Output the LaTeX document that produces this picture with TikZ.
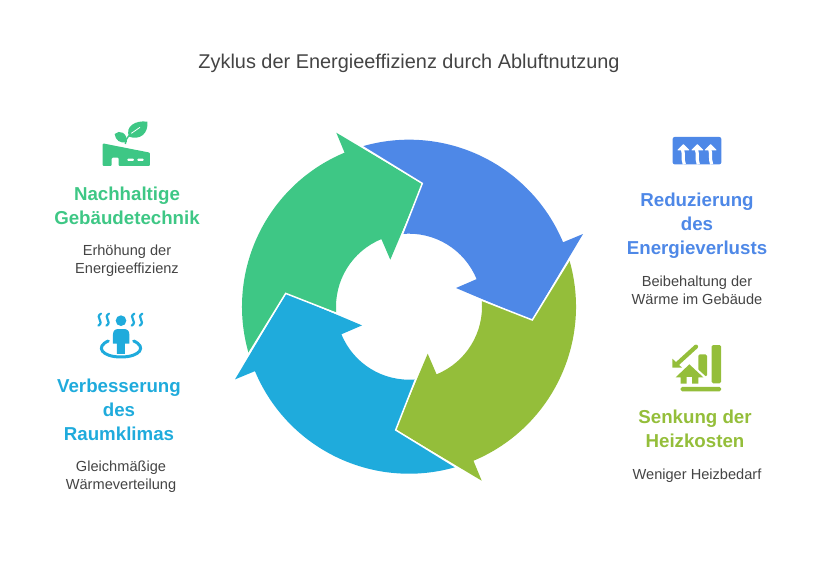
\documentclass[tikz,border=0pt]{standalone}
\usepackage{fontspec}
\setmainfont{Liberation Sans}
\usepackage{tikz}
\definecolor{arrowblue}{HTML}{4E88E7}
\definecolor{arrowgreen}{HTML}{3EC785}
\definecolor{arrowcyan}{HTML}{1FABDC}
\definecolor{arrowolive}{HTML}{94BE3A}
\definecolor{textgray}{HTML}{444444}
\tikzset{
  titlelabel/.style={text=textgray,font=\fontsize{19.9}{22}\selectfont},
  headlabel/.style={align=center,font=\fontsize{18.7}{24}\selectfont\bfseries},
  bodylabel/.style={align=center,text=textgray,font=\fontsize{14.6}{18}\selectfont},
  cycleedge/.style={draw=white,line width=1.5pt,line join=miter},
  iconzoom/.style={x=0.3333pt,y=-0.3333pt}
}
\newcommand{\cyclepart}[2]{%
  \fill [#2, shift={(409,259.3)}, rotate=#1]
    (106.1:167) -- (13.3,123.3) -- (94.7:73)
    arc [start angle=94.7, end angle=22.2, radius=73]
    -- (47,18.7) -- (122.7,-13.3) -- (174,72.7) -- (22.7:167)
    arc [start angle=22.7, end angle=106.1, radius=167] -- cycle;}
\begin{document}
\begin{tikzpicture}[x=1pt,y=1pt]
  \useasboundingbox (0,0) rectangle (818,566);
  % ring of arrows
  \cyclepart{0}{arrowblue}
  \cyclepart{-90}{arrowolive}
  \cyclepart{-180}{arrowcyan}
  \cyclepart{-270}{arrowgreen}
  \foreach \turn in {0,-90,-180,-270}
    \draw [cycleedge, shift={(409,259.3)}, rotate=\turn] (106.6:168) -- (13.3,123.3) -- (95.5:72);
  % title
  \node [titlelabel] (title) at (409,502.5) {Zyklus der Energieeffizienz durch Abluftnutzung};
  % left column
  \node [headlabel, text=arrowgreen] (headgreen) at (127,360) {Nachhaltige\\Gebäudetechnik};
  \node [bodylabel] (bodygreen) at (127,305) {Erhöhung der\\Energieeffizienz};
  \node [headlabel, text=arrowcyan] (headcyan) at (119,156) {Verbesserung\\des\\Raumklimas};
  \node [bodylabel] (bodycyan) at (121,89) {Gleichmäßige\\Wärmeverteilung};
  % right column
  \node [headlabel, text=arrowblue] (headblue) at (697,340) {Reduzierung\\des\\Energieverlusts};
  \node [bodylabel] (bodyblue) at (697,276) {Beibehaltung der\\Wärme im Gebäude};
  \node [headlabel, text=arrowolive] (headolive) at (695,137) {Senkung der\\Heizkosten};
  \node [bodylabel] (bodyolive) at (697,90) {Weniger Heizbedarf};
  % factory icon
  \begin{scope}[shift={(90,456)},iconzoom]
    \fill [arrowgreen, rounded corners=1pt] (38,100) -- (180,128) -- (180,168) -- (86,168) -- (86,143) -- (65,143) -- (65,168) -- (38,168) -- cycle;
    \fill [white, rounded corners=1pt] (112,146) rectangle (132,153);
    \fill [white, rounded corners=1pt] (142,146) rectangle (161,153);
    \fill [arrowgreen] (74,72) .. controls (88,58) and (112,68) .. (111,96) .. controls (90,102) and (76,90) .. (74,72) -- cycle;
    \fill [arrowgreen] (172,35) .. controls (135,30) and (105,50) .. (117,80) .. controls (150,92) and (176,70) .. (172,35) -- cycle;
    \draw [arrowgreen, line width=1.4pt] (106,102) .. controls (106,92) and (110,85) .. (118,76);
    \draw [white, line width=0.8pt] (124,70) -- (150,52);
  \end{scope}
  % person icon
  \begin{scope}[shift={(85,261)},iconzoom]
    \foreach \wavex in {44,68,144,168}
      \draw [arrowcyan, line width=2.2pt, line cap=round] (\wavex+4,26) .. controls (\wavex-16,37) and (\wavex+16,50) .. (\wavex-4,62);
    \fill [arrowcyan] (108,47) circle [radius=16];
    \fill [arrowcyan] (84,116) -- (84,88) .. controls (84,78) and (90,72) .. (100,72) -- (117,72) .. controls (127,72) and (133,78) .. (133,88) -- (133,116) -- (120,116) -- (120,147) -- (96,147) -- (96,116) -- cycle;
    \draw [arrowcyan, line width=3pt, line cap=round] (70,108) .. controls (30,125) and (50,156) .. (108,156) .. controls (166,156) and (186,125) .. (146,108);
  \end{scope}
  % heat icon
  \begin{scope}[shift={(660,441)},iconzoom]
    \fill [arrowblue, rounded corners=2pt] (38,36) rectangle (184,118);
    \foreach \heatx in {70,112,152} {
      \fill [white, draw=white, line width=1pt, line join=round] (\heatx,59) -- (\heatx+16,75) -- (\heatx-16,75) -- cycle;
      \draw [white, line width=3.2pt] (\heatx-3,72) .. controls (\heatx+3,88) and (\heatx-4,100) .. (\heatx+3,118);
    }
  \end{scope}
  % house and bars icon
  \begin{scope}[shift={(660,231)},iconzoom]
    \fill [arrowolive, rounded corners=1.5pt] (115,58) rectangle (141,125);
    \fill [arrowolive, rounded corners=1.5pt] (155,30) rectangle (183,145);
    \fill [arrowolive, rounded corners=1.5pt] (62,156) rectangle (183,169);
    \draw [arrowolive, line width=4.2pt, line cap=round] (108,35) -- (52,86);
    \fill [arrowolive] (37,71) -- (37,98) -- (66,98) -- cycle;
    \fill [white] (88,80) -- (138,125) -- (122,150) -- (52,150) -- (40,125) -- cycle;
    \fill [arrowolive] (88,88) -- (130,127) -- (115,127) -- (115,146) -- (96,146) -- (96,126) -- (80,126) -- (80,146) -- (62,146) -- (62,127) -- (47,127) -- cycle;
  \end{scope}
\end{tikzpicture}
\end{document}
